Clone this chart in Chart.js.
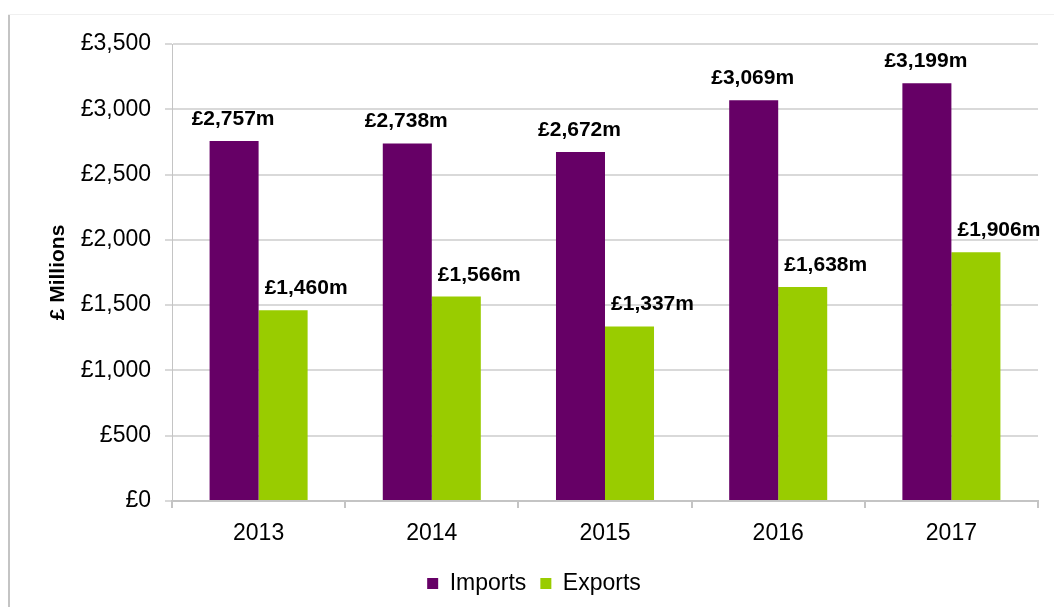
<!DOCTYPE html>
<html>
<head>
<meta charset="utf-8">
<script src="https://cdn.jsdelivr.net/npm/chart.js@4.4.1/dist/chart.umd.min.js"></script>
<style>
  html, body { margin: 0; padding: 0; background: #fff; }
  #wrap { position: relative; width: 1054px; height: 607px; }
  #frameLeft { position: absolute; left: 8px; top: 14px; width: 2px; height: 593px; background: #c4c4c4; }
  #frameTop { position: absolute; left: 8px; top: 14px; width: 1046px; height: 1px; background: #f0f0f0; }
</style>
</head>
<body>
<div id="wrap">
  <canvas id="chart" width="1054" height="607"></canvas>
  <div id="frameLeft"></div>
  <div id="frameTop"></div>
</div>
<script>
const years = ['2013', '2014', '2015', '2016', '2017'];
const imports = [2757, 2738, 2672, 3069, 3199];
const exports = [1460, 1566, 1337, 1638, 1906];
const yTicks = [0, 500, 1000, 1500, 2000, 2500, 3000, 3500];

const FONT = 'Arial, "Liberation Sans", sans-serif';
const fmt = v => '£' + v.toLocaleString('en-GB');

// labels above the bars, exports ones sit a bit to the right like the original
const labelOffsets = [-1, 23];
const valueLabels = {
    id: 'valueLabels',
    afterDatasetsDraw(chart) {
        const ctx = chart.ctx;
        ctx.save();
        ctx.font = 'bold 21px ' + FONT;
        ctx.fillStyle = '#000';
        ctx.textAlign = 'center';
        ctx.textBaseline = 'alphabetic';
        chart.data.datasets.forEach((ds, i) => {
            chart.getDatasetMeta(i).data.forEach((bar, j) => {
                ctx.fillText(fmt(ds.data[j]) + 'm', bar.x + labelOffsets[i], bar.y - 16);
            });
        });
        ctx.restore();
    }
};

new Chart(document.getElementById('chart'), {
    type: 'bar',
    data: {
        labels: years,
        datasets: [
            { label: 'Imports', data: imports, backgroundColor: '#660066' },
            { label: 'Exports', data: exports, backgroundColor: '#99cc00' }
        ]
    },
    options: {
        responsive: false,
        animation: false,
        layout: { padding: { top: 44, right: 16, left: 30, bottom: 2 } },
        datasets: { bar: { barPercentage: 1, categoryPercentage: 0.566 } },
        plugins: {
            tooltip: { enabled: false },
            legend: {
                position: 'bottom',
                labels: {
                    color: '#000',
                    font: { family: FONT, size: 23 },
                    boxWidth: 11,
                    boxHeight: 11,
                    padding: 14
                }
            }
        },
        scales: {
            x: {
                grid: { drawOnChartArea: false, drawTicks: true, tickLength: 7, color: '#c4c4c4', lineWidth: 2 },
                border: { color: '#c4c4c4', width: 2 },
                ticks: { color: '#000', font: { family: FONT, size: 23 }, padding: 12 },
                afterFit: s => { s.height = 57; }
            },
            y: {
                min: 0,
                max: 3500,
                afterBuildTicks: s => { s.ticks = yTicks.map(v => ({ value: v })); },
                grid: { color: '#d9d9d9', lineWidth: 2, tickLength: 7, drawTicks: true },
                border: { color: '#c4c4c4', width: 1 },
                ticks: { color: '#000', font: { family: FONT, size: 23 }, padding: 14, callback: v => fmt(v) },
                title: {
                    display: true,
                    text: '£ Millions',
                    color: '#000',
                    font: { family: FONT, size: 21, weight: 'bold' },
                    padding: { top: 16, bottom: 0 }
                },
                afterFit: s => { s.width = 142; }
            }
        }
    },
    plugins: [valueLabels]
});
</script>
</body>
</html>
